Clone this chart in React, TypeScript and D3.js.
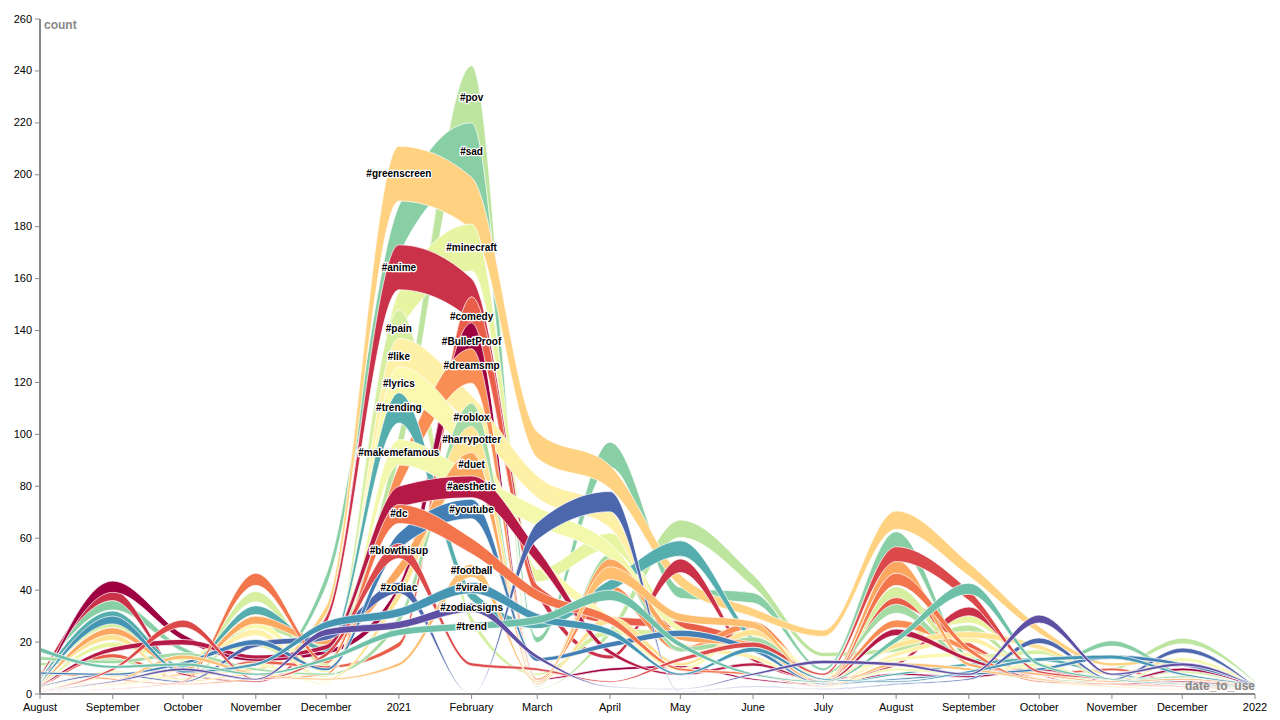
import React from "react";
import * as d3 from "d3";

// Month starts: Aug 2020 … Jan 2022
const months = [
  "2020-08", "2020-09", "2020-10", "2020-11", "2020-12", "2021-01",
  "2021-02", "2021-03", "2021-04", "2021-05", "2021-06", "2021-07",
  "2021-08", "2021-09", "2021-10", "2021-11", "2021-12", "2022-01",
];

const tags = [
  "#BulletProof", "#aesthetic", "#anime", "#blowthisup", "#comedy", "#dc",
  "#dreamsmp", "#duet", "#football", "#greenscreen", "#harrypotter", "#like",
  "#lyrics", "#makemefamous", "#minecraft", "#pain", "#pov", "#roblox",
  "#sad", "#trend", "#trending", "#virale", "#youtube", "#zodiac", "#zodiacsigns",
];

const bulletProof = [2, 43.5, 23, 14, 17, 42, 143, 6, 10, 11, 6, 4, 8, 7, 10, 5, 10, 3];
const aesthetic = [3, 18, 21, 15, 19, 80, 84, 56, 17, 8, 12, 5, 25, 14, 6, 4, 5, 2];
const anime = [7, 40, 8, 5, 30, 173, 160, 42, 15, 52, 14, 6, 12, 33.5, 8, 3, 6, 2];
const blowthisup = [1, 10, 28.5, 6, 16, 58, 12, 10, 5, 14, 20, 8, 56.7, 40, 9, 6, 3, 2];
const comedy = [2, 15.5, 6, 13, 11, 20, 153, 42, 30, 28, 20, 5, 37.5, 20, 8, 10, 4, 2];
const dc = [1, 2, 5, 46.5, 13, 73, 60, 40, 30, 10, 8, 3, 46.5, 18, 5, 4, 3, 2];
const dreamsmp = [9, 6, 4, 6, 8, 88, 133, 6, 42, 18, 28, 6, 28.5, 18, 6, 3, 4, 2];
const duet = [3, 25.5, 10, 30, 21, 50, 93, 4, 52, 23, 20, 4, 51.6, 12, 8, 5, 6, 3];
const football = [2, 5, 15, 8, 6, 12, 50, 5, 49, 31, 28, 3, 12, 10, 6, 3, 2, 2];
const greenscreen = [4, 4, 8, 10, 34, 211, 199, 101, 88, 46, 33, 24.6, 70.5, 50.5, 26, 12, 14, 4];
const harrypotter = [4, 23, 5, 8, 6, 40, 103, 5, 30, 12, 25, 6, 19.6, 24, 19, 8, 14, 3];
const like = [3, 7, 10, 25, 5, 137, 115, 84, 71, 20, 15, 4, 16, 22, 8, 5, 6, 3];
const lyrics = [5, 3, 12, 28, 9, 126, 100, 55, 30, 10, 25, 8, 14, 16, 5, 3, 4, 2];
const makemefamous = [2, 9, 6, 12, 4, 98, 85, 72, 58, 26, 18, 3, 10, 8, 12, 4, 14, 3];
const minecraft = [3, 20, 14, 20, 7, 155, 181, 48, 62, 27, 23, 5, 20, 30.4, 10, 5, 4, 2];
const pain = [5, 28.5, 10, 39.5, 12, 148, 30, 8, 25, 24, 18, 6, 41.3, 15, 17, 6, 9, 2];
const pov = [12, 14, 6, 28, 20, 100, 242, 2, 25, 67, 46, 16, 18, 26.6, 8, 10, 21.5, 5];
const roblox = [14.5, 13, 16, 10, 8, 30, 112, 3, 54, 18, 22, 8, 34.6, 12, 6, 5, 7, 3];
const sad = [8, 36, 18, 10, 46, 188, 220, 22, 97, 41, 39, 10, 62.5, 15, 10, 20.5, 8, 4];
const trend = [18, 11, 12, 8, 14, 25, 27.5, 30, 40, 20, 8, 5, 22, 42.7, 12, 6, 4, 3];
const trending = [6, 32, 11, 34, 18, 116, 40, 28, 44, 59, 22, 4, 8, 12, 14, 8, 5, 3];
const virale = [4, 30, 9, 12, 28, 33, 43, 31, 25, 8, 18, 6, 5, 9, 14, 15, 8, 4];
const youtube = [8.5, 8, 12.5, 21, 10, 62, 75, 14, 20, 24.6, 18, 4, 6, 8, 10, 15, 12, 4];
const zodiac = [3, 8, 5, 20, 23, 43, 0, 66, 78, 1, 3, 2, 4, 6, 21.6, 6, 17.7, 3];
const zodiacsigns = [1, 5, 10, 6, 25, 28, 35, 15, 3, 2, 8, 13, 12, 8, 30.4, 8, 12, 3];

const seriesValues = [
  bulletProof, aesthetic, anime, blowthisup, comedy, dc, dreamsmp, duet, football,
  greenscreen, harrypotter, like, lyrics, makemefamous, minecraft, pain, pov, roblox,
  sad, trend, trending, virale, youtube, zodiac, zodiacsigns,
];

const yTicks = [0, 20, 40, 60, 80, 100, 120, 140, 160, 180, 200, 220, 240, 260];

const FONT = "'Liberation Sans', Arial, Helvetica, sans-serif";
const AXIS = "#888";

export default function App() {
  const dates = months.map((m) => {
    const [yy, mm] = m.split("-").map(Number);
    return new Date(yy, mm - 1, 1);
  });
  const x = d3.scaleTime().domain([dates[0], dates[dates.length - 1]]).range([40, 1255]);
  const y = d3.scaleLinear().domain([0, 260]).range([694, 19]);

  const area = d3
    .area<number>()
    .x((_, i) => x(dates[i]))
    .y0((v) => y(v * 0.9))
    .y1((v) => y(v))
    .curve(d3.curveMonotoneX);

  const series = tags.map((name, i) => ({
    name,
    values: seriesValues[i],
    color: d3.interpolateSpectral(i / (tags.length - 1)),
    max: d3.max(seriesValues[i]) as number,
  }));
  const drawOrder = [...series].sort((a, b) => b.max - a.max);

  const xTicks = x.ticks(d3.timeMonth.every(1) as any);
  const xFmt = x.tickFormat();

  return (
    <svg
      width={1280}
      height={720}
      style={{ position: "absolute", left: 0, top: 0, background: "#fff" }}
      fontFamily={FONT}
    >
      <g>
        {drawOrder.map((s) => (
          <path
            key={s.name}
            d={area(s.values) || ""}
            fill={s.color}
            stroke="#fff"
            strokeWidth={0.7}
          />
        ))}
      </g>

      {/* Y axis */}
      <g>
        <line x1={40} x2={40} y1={19} y2={694} stroke={AXIS} strokeWidth={2} />
        {yTicks.map((t) => (
          <g key={t} transform={`translate(40,${y(t)})`}>
            <line x1={-5} x2={0} stroke={AXIS} strokeWidth={1} />
            <text x={-8} dy="0.32em" textAnchor="end" fontSize={11} fill="#000">
              {t}
            </text>
          </g>
        ))}
        <text x={44} y={29} fontSize={12} fontWeight="bold" fill={AXIS}>
          count
        </text>
      </g>

      {/* X axis */}
      <g>
        <line x1={40} x2={1255} y1={694} y2={694} stroke={AXIS} strokeWidth={2} />
        {xTicks.map((t) => (
          <g key={+t} transform={`translate(${x(t)},694)`}>
            <line y1={0} y2={5} stroke={AXIS} strokeWidth={1} />
            <text y={17} textAnchor="middle" fontSize={11} fill="#000">
              {xFmt(t)}
            </text>
          </g>
        ))}
        <text x={1255} y={690} textAnchor="end" fontSize={12} fontWeight="bold" fill={AXIS}>
          date_to_use
        </text>
      </g>

      {/* Labels */}
      <g>
        {series.map((s) => {
          const li = s.values[5] >= s.values[6] ? 5 : 6;
          const v = s.values[li];
          return (
            <text
              key={s.name}
              x={x(dates[li])}
              y={y(v * 0.95)}
              dy="0.35em"
              textAnchor="middle"
              fontSize={10}
              fontWeight="bold"
              fill="#000"
              stroke="#fff"
              strokeWidth={2.5}
              strokeLinejoin="round"
              style={{ paintOrder: "stroke" }}
            >
              {s.name}
            </text>
          );
        })}
      </g>
    </svg>
  );
}
